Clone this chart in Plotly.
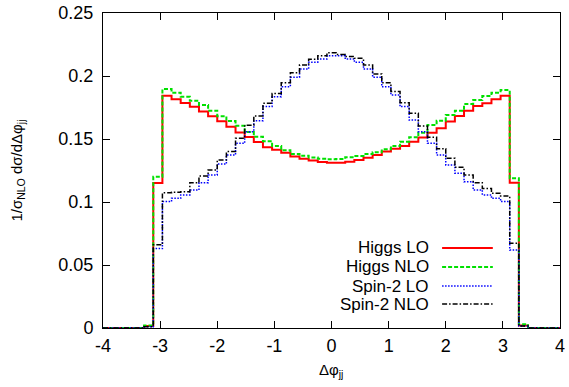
import plotly.graph_objects as go

# bin centres (width 0.16)
bin_centers = [-4.00, -3.84, -3.68, -3.52, -3.36, -3.20, -3.04, -2.88, -2.72, -2.56,
               -2.40, -2.24, -2.08, -1.92, -1.76, -1.60, -1.44, -1.28, -1.12, -0.96,
               -0.80, -0.64, -0.48, -0.32, -0.16, 0.00, 0.16, 0.32, 0.48, 0.64,
               0.80, 0.96, 1.12, 1.28, 1.44, 1.60, 1.76, 1.92, 2.08, 2.24,
               2.40, 2.56, 2.72, 2.88, 3.04, 3.20, 3.36, 3.52, 3.68, 3.84, 4.00]

higgs_lo = [0, 0, 0, 0, 0, 0.0015, 0.115, 0.1844, 0.1815, 0.1786,
            0.1755, 0.1718, 0.1680, 0.1640, 0.1597, 0.1551, 0.1515, 0.1476, 0.1435, 0.1415,
            0.1390, 0.1362, 0.1343, 0.1330, 0.1318, 0.1312, 0.1312, 0.1320, 0.1333, 0.1352,
            0.1373, 0.1400, 0.1423, 0.1444, 0.1479, 0.1511, 0.1550, 0.1585, 0.1638, 0.1683,
            0.1725, 0.1762, 0.1783, 0.1815, 0.1844, 0.1153, 0.002, 0, 0, 0, 0]

higgs_nlo = [0, 0, 0, 0, 0, 0.002, 0.120, 0.1897, 0.1868, 0.1836,
             0.1804, 0.1770, 0.1725, 0.1680, 0.1643, 0.1606, 0.1555, 0.1518, 0.1482, 0.1444,
             0.1410, 0.1380, 0.1367, 0.1353, 0.1343, 0.1339, 0.1341, 0.1355, 0.1365, 0.1380,
             0.1394, 0.1418, 0.1444, 0.1479, 0.1513, 0.1550, 0.1611, 0.1645, 0.1690, 0.1725,
             0.1778, 0.1810, 0.1841, 0.1868, 0.1889, 0.1188, 0.003, 0, 0, 0, 0]

spin2_lo = [0, 0, 0, 0, 0, 0.001, 0.063, 0.1003, 0.1029, 0.1056,
            0.1095, 0.1153, 0.1214, 0.1302, 0.1373, 0.1466, 0.1558, 0.1645, 0.1757, 0.1835,
            0.1915, 0.1990, 0.2055, 0.2110, 0.2135, 0.2160, 0.2160, 0.2135, 0.2110, 0.2055,
            0.1990, 0.1915, 0.1850, 0.1757, 0.1650, 0.1558, 0.1466, 0.1373, 0.1294, 0.1228,
            0.1161, 0.1095, 0.1056, 0.1029, 0.1003, 0.0619, 0.0015, 0, 0, 0, 0]

spin2_nlo = [0, 0, 0, 0, 0, 0.001, 0.066, 0.1074, 0.1077, 0.1082,
             0.1153, 0.1206, 0.1254, 0.1333, 0.1400, 0.1505, 0.1610, 0.1683, 0.1783, 0.1862,
             0.1947, 0.2026, 0.2087, 0.2132, 0.2160, 0.2185, 0.2170, 0.2155, 0.2140, 0.2087,
             0.2016, 0.1947, 0.1876, 0.1788, 0.1704, 0.1603, 0.1513, 0.1423, 0.1347, 0.1275,
             0.1214, 0.1153, 0.1108, 0.1069, 0.1048, 0.0672, 0.0015, 0, 0, 0, 0]

series_names = ["Higgs LO", "Higgs NLO", "Spin-2 LO", "Spin-2 NLO"]
x_tick_vals = [-4, -3, -2, -1, 0, 1, 2, 3, 4]
x_tick_text = ["-4", "-3", "-2", "-1", "0", "1", "2", "3", "4"]
y_tick_vals = [0, 0.05, 0.1, 0.15, 0.2, 0.25]
y_tick_text = ["0", "0.05", "0.1", "0.15", "0.2", "0.25"]
x_title = "Δφ<sub>jj</sub>"
y_title = "1/σ<sub>NLO</sub> dσ/dΔφ<sub>jj</sub>"

styles = [
    dict(color="#ff0000", width=2, dash="solid"),
    dict(color="#00e000", width=2, dash="4px,2px"),
    dict(color="#0000ff", width=1.5, dash="1.5px,1.5px"),
    dict(color="#000000", width=1.5, dash="5px,2px,1.5px,2px"),
]

fig = go.Figure()
for name, vals, st in zip(series_names, [higgs_lo, higgs_nlo, spin2_lo, spin2_nlo], styles):
    fig.add_trace(go.Scatter(x=bin_centers, y=vals, mode="lines", name=name,
                             line=dict(shape="hvh", **st), showlegend=False))

FONT = "Liberation Sans, Arial, Helvetica, sans-serif"

# gnuplot-style legend: text right-aligned, sample line on the right
legend_y = [0.254, 0.194, 0.133, 0.076]
annotations = []
shapes = []
for name, st, yy in zip(series_names, styles, legend_y):
    annotations.append(dict(x=0.7175, y=yy, xref="paper", yref="paper", text=name,
                            showarrow=False, xanchor="right", yanchor="middle",
                            font=dict(size=17, color="black", family=FONT)))
    shapes.append(dict(type="line", xref="paper", yref="paper", x0=0.742, x1=0.853,
                       y0=yy, y1=yy, line=st))

# axis titles
annotations.append(dict(x=0.499, y=-0.135, xref="paper", yref="paper", text=x_title,
                        showarrow=False, xanchor="center", yanchor="middle",
                        font=dict(size=15, color="black", family=FONT)))
annotations.append(dict(x=-0.188, y=0.5, xref="paper", yref="paper", text=y_title,
                        showarrow=False, xanchor="center", yanchor="middle", textangle=-90,
                        font=dict(size=15, color="black", family=FONT)))

fig.update_layout(
    width=569, height=387,
    margin=dict(l=103, r=9, t=13, b=59),
    paper_bgcolor="white", plot_bgcolor="white",
    font=dict(family=FONT, size=18, color="black"),
    annotations=annotations, shapes=shapes,
    xaxis=dict(range=[-4, 4], tickvals=x_tick_vals, ticktext=x_tick_text,
               ticks="inside", ticklen=7, tickwidth=1, tickcolor="black",
               showline=True, linecolor="black", linewidth=1, mirror="ticks",
               showgrid=False, zeroline=False, automargin=False, ticklabelstandoff=1,
               ticklabeloverflow="allow"),
    yaxis=dict(range=[0, 0.25], tickvals=y_tick_vals, ticktext=y_tick_text,
               ticks="inside", ticklen=7, tickwidth=1, tickcolor="black",
               showline=True, linecolor="black", linewidth=1, mirror="ticks",
               showgrid=False, zeroline=False, ticklabelstandoff=5, automargin=False),
)

fig.write_html("out.html", config={"displayModeBar": False},
               post_script="document.body.style.margin='0';document.body.style.overflow='hidden';")
